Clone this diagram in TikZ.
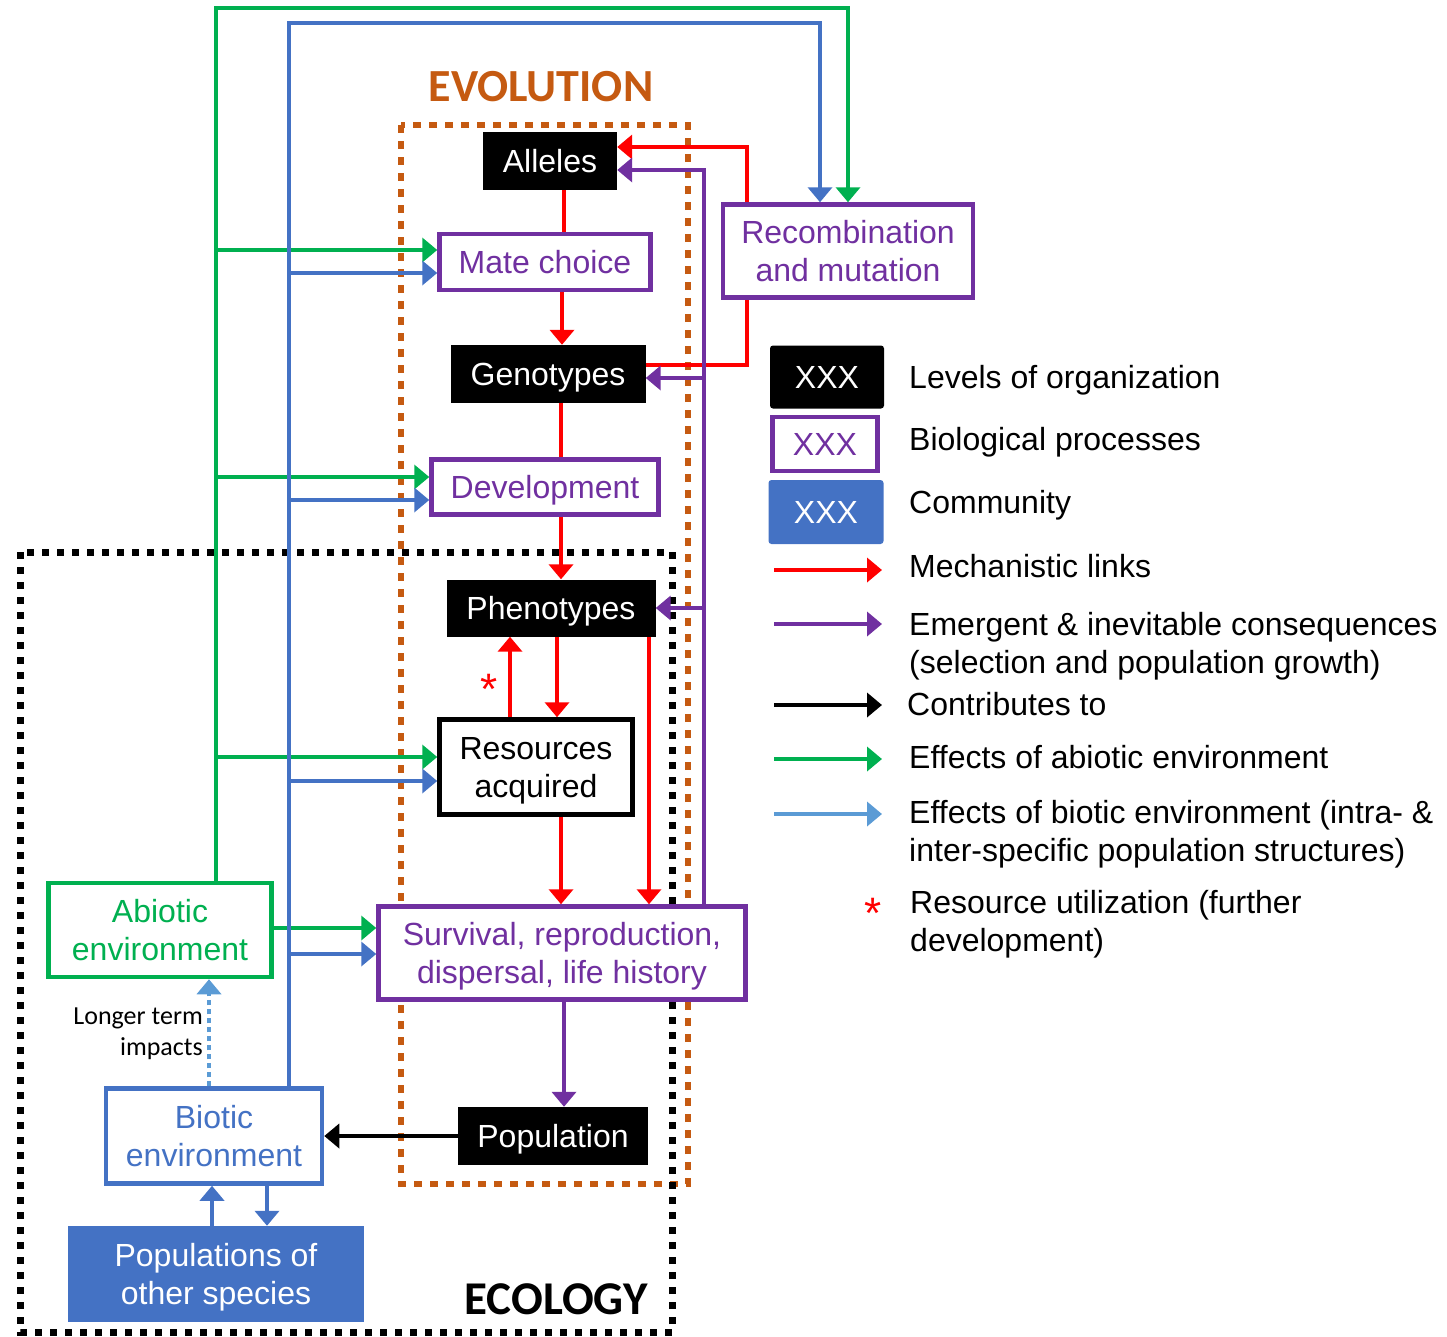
\documentclass[tikz,border=0pt]{standalone}
\usepackage{fontspec}
\setmainfont{Liberation Sans}
\newfontfamily\calib{Carlito}
\usetikzlibrary{arrows.meta}
\definecolor{cred}{HTML}{FF0000}
\definecolor{cpur}{HTML}{7030A0}
\definecolor{cgrn}{HTML}{00B050}
\definecolor{cblu}{HTML}{4472C4}
\definecolor{cltb}{HTML}{5B9BD5}
\definecolor{corg}{HTML}{C55A11}
\begin{document}
\begin{tikzpicture}[x=1pt,y=-1pt,
  every node/.style={inner sep=0pt, font=\fontsize{32}{38}\selectfont},
  sl/.style={text height=23pt, text depth=0pt},
  lvlbox/.style={fill=black, text=white, sl},
  procbox/.style={draw=cpur, line width=4.5pt, fill=white, text=cpur, align=center},
  resbox/.style={draw=black, line width=4.5pt, fill=white, text=black, align=center},
  abiobox/.style={draw=cgrn, line width=4.5pt, fill=white, text=cgrn, align=center},
  biobox/.style={draw=cblu, line width=4.5pt, fill=white, text=cblu, align=center},
  commbox/.style={fill=cblu, text=white, align=center},
  legtext/.style={anchor=base west, align=left},
  tipA/.style={-{Triangle[length=15pt,width=24pt]}},
  redL/.style={draw=cred, line width=4pt},
  redA/.style={redL, tipA},
  purA/.style={draw=cpur, line width=4pt, tipA},
  grnA/.style={draw=cgrn, line width=4pt, tipA},
  bluA/.style={draw=cblu, line width=4pt, tipA},
  ltbA/.style={draw=cltb, line width=4pt, tipA},
  blkA/.style={draw=black, line width=4pt, tipA},
  ]
\useasboundingbox (0,0) rectangle (1447,1336);

% dotted frames
\draw[corg, line width=6.5pt, dash pattern=on 8pt off 8pt] (401,125) rectangle (688,1184);
\draw[black, line width=7pt, dash pattern=on 7pt off 8pt] (20,552) rectangle (672,1332);

% titles
\node[text=corg, font=\calib\bfseries\fontsize{46}{46}\selectfont] (evo) at (541,87) {EVOLUTION};
\node[text=black, font=\calib\bfseries\fontsize{47}{47}\selectfont] (eco) at (556,1299) {ECOLOGY};

% main nodes
\node[lvlbox, minimum width=134pt, minimum height=58pt] (all) at (550,161) {Alleles};
\node[procbox, sl, minimum width=211pt, minimum height=56pt] (mate) at (545,262) {Mate choice};
\node[lvlbox, minimum width=195pt, minimum height=58pt] (geno) at (548,374) {Genotypes};
\node[procbox, sl, minimum width=227pt, minimum height=55pt] (dev) at (545,487) {Development};
\node[lvlbox, minimum width=209pt, minimum height=57pt] (phen) at (551,608) {Phenotypes};
\node[resbox, minimum width=193pt, minimum height=95pt] (res) at (536,767) {Resources\\\smash{acquired}};
\node[procbox, minimum width=367pt, minimum height=93pt] (surv) at (562,953) {Survival, reproduction,\\\smash{dispersal, life history}};
\node[lvlbox, minimum width=190pt, minimum height=58pt] (pop) at (553,1136) {Population};
\node[procbox, minimum width=250pt, minimum height=93pt] (rec) at (848,251) {Recombination\\and mutation};
\node[abiobox, minimum width=223pt, minimum height=94pt] (abio) at (160,930) {Abiotic\\environment};
\node[biobox, minimum width=216pt, minimum height=95pt] (bio) at (214,1136) {Biotic\\environment};
\node[commbox, minimum width=296pt, minimum height=96pt] (oth) at (216,1274) {Populations of\\\smash{other species}};

\node[text=cred, font=\fontsize{44}{44}\selectfont, anchor=north] (ast) at (489,674) {*};
\node[anchor=east, align=right, font=\calib\fontsize{26}{31}\selectfont] (lt) at (203,1034) {Longer term\\impacts};

% green connectors
\coordinate (gtop) at (848,8);
\draw[grnA] ([xshift=56pt]abio.north) coordinate (gbase) |- (gtop) -- (gtop |- rec.north);
\path ([yshift=12pt]mate.west) coordinate (gm)
      ([yshift=10pt]dev.west) coordinate (gd)
      ([yshift=10pt]res.west) coordinate (gr)
      ([yshift=25pt]surv.west) coordinate (gs);
\draw[grnA] (gbase |- gm) -- (gm);
\draw[grnA] (gbase |- gd) -- (gd);
\draw[grnA] (gbase |- gr) -- (gr);
\draw[grnA] (abio.east |- gs) -- (gs);

% blue connectors
\coordinate (btop) at (820,23);
\draw[bluA] ([xshift=75pt]bio.north) coordinate (bbase) |- (btop) -- (btop |- rec.north);
\path ([yshift=-11pt]mate.west) coordinate (bm)
      ([yshift=-13pt]dev.west) coordinate (bd)
      ([yshift=-14pt]res.west) coordinate (br)
      ([yshift=-1pt]surv.west) coordinate (bs);
\draw[bluA] (bbase |- bm) -- (bm);
\draw[bluA] (bbase |- bd) -- (bd);
\draw[bluA] (bbase |- br) -- (br);
\draw[bluA] (bbase |- bs) -- (bs);

% red connectors
\draw[redL] ([xshift=14pt]all.south) coordinate (r1) -- (r1 |- mate.north);
\draw[redA] ([xshift=17pt]mate.south) coordinate (r2) -- (r2 |- geno.north);
\draw[redL] ([xshift=13pt]geno.south) coordinate (r3) -- (r3 |- dev.north);
\draw[redA] ([xshift=16pt]dev.south) coordinate (r4) -- (r4 |- phen.north);
\draw[redA] ([xshift=6pt]phen.south) coordinate (r5) -- (r5 |- res.north);
\draw[redA] ([xshift=-26pt]res.north) coordinate (r6) -- (r6 |- phen.south);
\draw[redA] ([xshift=98pt]phen.south) coordinate (r7) -- (r7 |- surv.north);
\draw[redA] ([xshift=25pt]res.south) coordinate (r8) -- (r8 |- surv.north);
\draw[redA] ([xshift=-101pt]rec.north) |- ([yshift=14pt]all.east);
\draw[redL] ([xshift=-101pt]rec.south) |- ([yshift=9pt]geno.east);

% purple connectors
\draw[purA] ([xshift=142pt]surv.north) coordinate (pv) |- ([yshift=-9pt]all.east);
\path ([yshift=-4pt]geno.east) coordinate (pg);
\draw[purA] (pv |- pg) -- (pg);
\draw[purA] (pv |- phen.east) -- (phen.east);
\draw[purA] ([xshift=2pt]surv.south) coordinate (p4) -- (p4 |- pop.north);

% black, dotted and community links
\draw[blkA] (pop.west) -- (bio.east);
\draw[ltbA, dash pattern=on 5pt off 4pt] ([xshift=-5pt]bio.north) coordinate (d1) -- (d1 |- abio.south);
\draw[bluA] ([xshift=-4pt]oth.north) coordinate (o1) -- (o1 |- bio.south);
\path ([xshift=51pt]oth.north) coordinate (o2);
\draw[bluA] (o2 |- bio.south) -- (o2);

% legend
\node[lvlbox, minimum width=114pt, minimum height=63pt, rounded corners=3pt] (k1) at (827,377) {XXX};
\node[procbox, sl, minimum width=105pt, minimum height=54pt] (k2) at (825,444) {XXX};
\node[commbox, sl, minimum width=115pt, minimum height=64pt, rounded corners=3pt] (k3) at (826,512) {XXX};
\node[legtext] (t1) at (909,388) {Levels of organization};
\node[legtext] (t2) at (909,450) {Biological processes};
\node[legtext] (t3) at (909,513) {Community};
\node[legtext] (t4) at (909,577) {Mechanistic links};
\node[legtext] (t5) at (909,673) {Emergent \& inevitable consequences\\(selection and population growth)};
\node[legtext] (t6) at (907,715) {Contributes to};
\node[legtext] (t7) at (909,768) {Effects of abiotic environment};
\node[legtext] (t8) at (909,861) {Effects of biotic environment (intra- \&\\inter-specific population structures)};
\node[legtext] (t9) at (910,951) {Resource utilization (further\\development)};
\node[text=cred, font=\fontsize{44}{44}\selectfont, anchor=north] (ast2) at (873,898) {*};

\coordinate (l1s) at (774,570); \coordinate (l1e) at (882,570);
\coordinate (l2s) at (774,624); \coordinate (l2e) at (882,624);
\coordinate (l3s) at (774,705); \coordinate (l3e) at (882,705);
\coordinate (l4s) at (774,759); \coordinate (l4e) at (882,759);
\coordinate (l5s) at (774,814); \coordinate (l5e) at (882,814);
\draw[redA] (l1s) -- (l1e);
\draw[purA] (l2s) -- (l2e);
\draw[blkA] (l3s) -- (l3e);
\draw[grnA] (l4s) -- (l4e);
\draw[ltbA] (l5s) -- (l5e);
\end{tikzpicture}
\end{document}
